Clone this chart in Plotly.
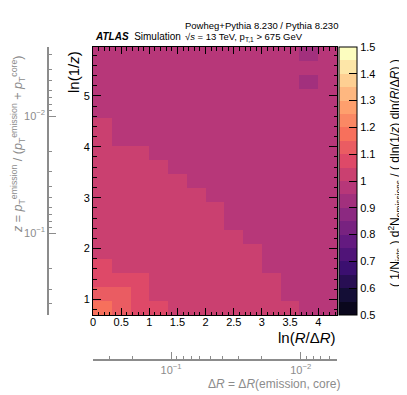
"""
Lund plane ratio Powheg+Pythia / Pythia, ATLAS style.
"""
import numpy as np
import plotly.graph_objects as go

# --- data ---
R_JET = 0.4
ln_r_edges = np.linspace(0.0, 13 / 3, 14)          # ln(R/dR) bins
ln_z_edges = np.log(2) + 0.2773 * np.arange(20)     # ln(1/z) bins

# ratio per bin, rows from bottom (ln(1/z) small) to top
ratio = [
    [1.17, 1.12, 1.07, 1.06, 1.03, 1.02, 1.02, 1.01, 1.02, 1.01, 1.01, 0.98, 0.97],
    [1.12, 1.11, 1.07, 1.04, 1.03, 1.02, 1.02, 1.02, 1.01, 1.01, 0.98, 0.98, 0.97],
    [1.08, 1.07, 1.06, 1.04, 1.03, 1.02, 1.02, 1.01, 1.01, 1.01, 0.98, 0.97, 0.97],
    [1.06, 1.04, 1.04, 1.03, 1.02, 1.02, 1.01, 1.01, 1.01, 0.99, 0.98, 0.97, 0.97],
    [1.04, 1.04, 1.03, 1.03, 1.02, 1.02, 1.01, 1.01, 1.01, 0.99, 0.98, 0.98, 0.97],
    [1.04, 1.04, 1.03, 1.02, 1.02, 1.01, 1.01, 1.01, 0.99, 0.98, 0.98, 0.97, 0.97],
    [1.04, 1.03, 1.03, 1.02, 1.02, 1.01, 1.01, 0.99, 0.98, 0.98, 0.98, 0.97, 0.97],
    [1.04, 1.03, 1.03, 1.02, 1.02, 1.01, 1.01, 0.99, 0.98, 0.98, 0.97, 0.97, 0.97],
    [1.03, 1.03, 1.02, 1.02, 1.01, 1.01, 0.99, 0.99, 0.98, 0.98, 0.97, 0.97, 0.97],
    [1.03, 1.03, 1.02, 1.02, 1.01, 0.99, 0.99, 0.98, 0.98, 0.98, 0.97, 0.97, 0.97],
    [1.03, 1.02, 1.02, 1.01, 0.99, 0.99, 0.98, 0.98, 0.98, 0.97, 0.97, 0.97, 0.97],
    [1.03, 1.02, 1.01, 0.99, 0.99, 0.98, 0.98, 0.98, 0.97, 0.97, 0.97, 0.97, 0.97],
    [1.02, 0.99, 0.99, 0.99, 0.98, 0.98, 0.98, 0.97, 0.97, 0.97, 0.97, 0.97, 0.97],
    [1.02, 0.99, 0.99, 0.98, 0.98, 0.98, 0.97, 0.97, 0.97, 0.97, 0.97, 0.97, 0.97],
    [0.99, 0.99, 0.98, 0.98, 0.98, 0.97, 0.97, 0.97, 0.97, 0.97, 0.97, 0.96, 0.97],
    [0.99, 0.98, 0.98, 0.98, 0.97, 0.97, 0.97, 0.97, 0.97, 0.97, 0.96, 0.96, 0.97],
    [0.98, 0.98, 0.98, 0.97, 0.97, 0.97, 0.97, 0.97, 0.97, 0.96, 0.96, 0.93, 0.96],
    [0.98, 0.98, 0.97, 0.97, 0.97, 0.97, 0.97, 0.97, 0.96, 0.96, 0.96, 0.96, 0.96],
    [0.98, 0.97, 0.97, 0.97, 0.97, 0.97, 0.97, 0.96, 0.96, 0.96, 0.96, 0.93, 0.96],
]

cbar_ticks = [0.5, 0.6, 0.7, 0.8, 0.9, 1.0, 1.1, 1.2, 1.3, 1.4, 1.5]
cbar_labels = ["0.5", "0.6", "0.7", "0.8", "0.9", "1", "1.1", "1.2", "1.3", "1.4", "1.5"]

# magma deciles, sampled into 20 flat bands like ROOT contours
MAGMA = ["#000004", "#140e36", "#3b0f70", "#641a80", "#8c2981", "#b73779",
         "#de4968", "#f7705c", "#fe9f6d", "#fecf92", "#fcfdbf"]


def magma_at(t):
    rgb = [tuple(int(h[i:i + 2], 16) for i in (1, 3, 5)) for h in MAGMA]
    pos = t * (len(rgb) - 1)
    i = min(int(pos), len(rgb) - 2)
    f = pos - i
    c = [round(rgb[i][k] + f * (rgb[i + 1][k] - rgb[i][k])) for k in range(3)]
    return f"rgb({c[0]},{c[1]},{c[2]})"


NB = 20
colorscale = []
for k in range(NB):
    c = magma_at((k + 1) / NB)
    colorscale.append([k / NB, c])
    colorscale.append([(k + 1) / NB, c])

# --- page geometry (pixels in the reference picture) ---
OFF = 8                      # body margin of the html page
W, H = 407 - OFF, 395 - OFF
ML, MR, MT, MB = 12, 2, 39, 2
PW, PH = W - ML - MR, H - MT - MB


def px_x(p):
    return (p - OFF - ML) / PW


def px_y(p):
    return (H - MB - (p - OFF)) / PH


FONT = "Liberation Sans"
GREY = "#8c8c8c"

fig = go.Figure()

fig.add_trace(go.Heatmap(
    x=ln_r_edges, y=ln_z_edges, z=ratio,
    zmin=0.5, zmax=1.5, colorscale=colorscale,
    colorbar=dict(
        x=px_x(339), xanchor="left", xpad=0,
        y=1.0, yanchor="top", ypad=0,
        len=268, lenmode="pixels",
        thickness=18, thicknessmode="pixels",
        tickvals=cbar_ticks, ticktext=cbar_labels,
        ticks="inside", ticklen=8, tickcolor="black",
        outlinewidth=1, outlinecolor="black",
        tickfont=dict(size=11, color="black", family=FONT),
    ),
    hoverinfo="skip",
))

# empty traces so the secondary axes get drawn
fig.add_trace(go.Scatter(x=[], y=[], xaxis="x2", yaxis="y", showlegend=False))
fig.add_trace(go.Scatter(x=[], y=[], xaxis="x", yaxis="y2", showlegend=False))

top = ln_z_edges[-1]
dr_minor = [0.4, 0.3, 0.2, 0.09, 0.08, 0.07, 0.06, 0.05, 0.04, 0.03, 0.02,
            0.009, 0.008, 0.007, 0.006]
z_minor = [0.5, 0.4, 0.3, 0.2, 0.09, 0.08, 0.07, 0.06, 0.05, 0.04, 0.03, 0.02,
           0.009, 0.008, 0.007, 0.006, 0.005, 0.004, 0.003]

fig.update_layout(
    width=W, height=H, autosize=False,
    margin=dict(l=ML, r=MR, t=MT, b=MB),
    paper_bgcolor="white", plot_bgcolor="white",
    font=dict(family=FONT, color="black"),
    showlegend=False,
    xaxis=dict(
        domain=[px_x(93), px_x(337)], range=[0, 13 / 3],
        tickvals=[0, 0.5, 1, 1.5, 2, 2.5, 3, 3.5, 4],
        ticktext=["0", "0.5", "1", "1.5", "2", "2.5", "3", "3.5", "4"],
        ticks="inside", ticklen=7, tickcolor="black",
        ticklabelstandoff=-3,
        minor=dict(dtick=0.1, ticks="inside", ticklen=3.5, tickcolor="black"),
        showline=True, linecolor="black", linewidth=1, mirror="ticks",
        showgrid=False, zeroline=False,
        tickfont=dict(size=11),
    ),
    yaxis=dict(
        domain=[px_y(315), 1.0], range=[ln_z_edges[0], top],
        tickvals=[1, 2, 3, 4, 5],
        ticks="inside", ticklen=8, tickcolor="black",
        minor=dict(dtick=0.2, ticks="inside", ticklen=3.5, tickcolor="black"),
        showline=True, linecolor="black", linewidth=1, mirror="ticks",
        showgrid=False, zeroline=False,
        tickfont=dict(size=11),
    ),
    xaxis2=dict(
        overlaying="x", anchor="free", position=px_y(360), side="bottom",
        type="log",
        range=[np.log10(R_JET), np.log10(R_JET * np.exp(-13 / 3))],
        tickvals=[0.1, 0.01],
        ticktext=["10<sup>\u22121</sup>", "10<sup>\u22122</sup>"],
        ticks="inside", ticklen=7, tickcolor=GREY,
        minor=dict(tickvals=dr_minor, ticks="inside", ticklen=3.5, tickcolor=GREY),
        showline=True, linecolor=GREY, linewidth=1.5,
        showgrid=False, zeroline=False,
        tickfont=dict(size=11, color=GREY),
    ),
    yaxis2=dict(
        overlaying="y", anchor="free", position=px_x(48), side="left",
        type="log",
        range=[np.log10(0.5), np.log10(np.exp(-top))],
        tickvals=[0.1, 0.01],
        ticktext=["10<sup>\u22121</sup>", "10<sup>\u22122</sup>"],
        ticks="inside", ticklen=7, tickcolor=GREY,
        minor=dict(tickvals=z_minor, ticks="inside", ticklen=3.5, tickcolor=GREY),
        showline=True, linecolor=GREY, linewidth=1.5,
        showgrid=False, zeroline=False,
        tickfont=dict(size=11, color=GREY),
    ),
)

ann = [
    dict(x=px_x(93), y=px_y(36), xanchor="left", yanchor="middle",
         text="<b><i>ATLAS</i></b>  Simulation", font=dict(size=10)),
    dict(x=px_x(183), y=px_y(25), xanchor="left", yanchor="middle",
         text="Powheg+Pythia 8.230 / Pythia 8.230", font=dict(size=9.5)),
    dict(x=px_x(183), y=px_y(37), xanchor="left", yanchor="middle",
         text="\u221a<i>s</i> = 13 TeV, p<sub>T,1</sub> > 675 GeV", font=dict(size=9.5)),
    dict(x=px_x(73), y=px_y(49), xanchor="center", yanchor="top", textangle=-90,
         text="ln(1/<i>z</i>)", font=dict(size=15)),
    dict(x=px_x(338), y=px_y(337), xanchor="right", yanchor="middle",
         text="ln(<i>R</i>/\u0394<i>R</i>)", font=dict(size=15)),
    dict(x=px_x(274), y=px_y(384), xanchor="center", yanchor="middle",
         text="\u0394<i>R</i> = \u0394<i>R</i>(emission, core)",
         font=dict(size=12, color=GREY)),
    dict(x=px_x(18), y=px_y(144), xanchor="center", yanchor="middle", textangle=-90,
         text="<i>z</i> = <i>p</i><sub>T</sub><sup>emission</sup> / "
              "(<i>p</i><sub>T</sub><sup>emission</sup> + <i>p</i><sub>T</sub><sup>core</sup>)",
         font=dict(size=12.5, color=GREY)),
    dict(x=px_x(395), y=px_y(173), xanchor="center", yanchor="middle", textangle=-90,
         text="( 1/N<sub>jets</sub> ) d<sup>2</sup>N<sub>emissions</sub> / "
              "( dln(1/<i>z</i>) dln(<i>R</i>/\u0394<i>R</i>) )",
         font=dict(size=12)),
]
for a in ann:
    a.update(xref="paper", yref="paper", showarrow=False)
    fig.add_annotation(**a)

fig.write_html("out.html")
